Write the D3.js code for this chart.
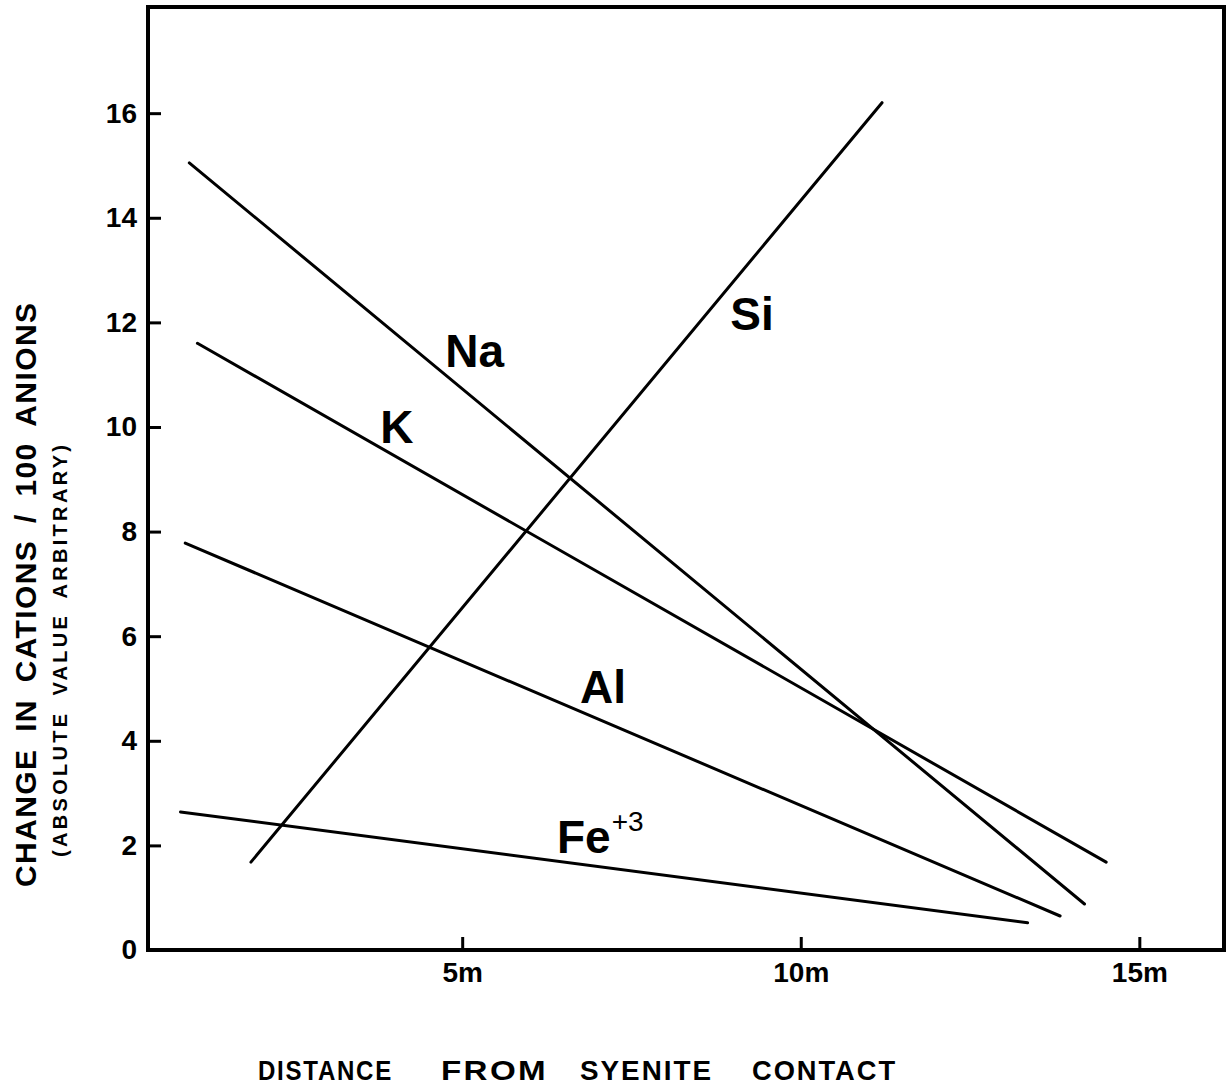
<!DOCTYPE html>
<html>
<head>
<meta charset="utf-8">
<script src="https://cdn.jsdelivr.net/npm/d3@7"></script>
<style>
  body { margin: 0; background: #fff; }
  text { font-family: "Liberation Sans", Arial, sans-serif; font-weight: bold; fill: #000; }
</style>
</head>
<body>
<svg id="chart" width="1231" height="1086"></svg>
<script>
// Distance axis (metres) and cation change axis
const xTicks = [5, 10, 15];
const xTickLabels = ["5m", "10m", "15m"];
const yTicks = [0, 2, 4, 6, 8, 10, 12, 14, 16];
const yTickLabels = ["0", "2", "4", "6", "8", "10", "12", "14", "16"];

// Each element's trend: [distance m, change] at both ends
const siLine = [[1.88, 1.68], [11.2, 16.2]];
const naLine = [[0.97, 15.05], [14.19, 0.88]];
const kLine  = [[1.09, 11.6], [14.51, 1.68]];
const alLine = [[0.91, 7.78], [13.83, 0.65]];
const feLine = [[0.84, 2.64], [13.35, 0.52]];

const elements = ["Si", "Na", "K", "Al", "Fe"];

const xTitleWords = ["DISTANCE", "FROM", "SYENITE", "CONTACT"];

const W = 1231, H = 1086;
const margin = { left: 148, top: 7, right: 5, bottom: 136 };

const svg = d3.select("#chart");

const x = d3.scaleLinear().domain([0.36, 16.28]).range([margin.left, W - margin.right]);
const y = d3.scaleLinear().domain([0, 18.03]).range([H - margin.bottom, margin.top]);

const line = d3.line().x(d => x(d[0])).y(d => y(d[1]));

// Trend lines
const seriesData = [siLine, naLine, kLine, alLine, feLine];
svg.append("g").selectAll("path")
  .data(seriesData)
  .join("path")
  .attr("d", line)
  .attr("fill", "none")
  .attr("stroke", "#000")
  .attr("stroke-width", 3)
  .attr("stroke-linecap", "round");

// Left axis with inward ticks
const yAxis = d3.axisLeft(y)
  .tickValues(yTicks)
  .tickFormat((d, i) => yTickLabels[i])
  .tickSizeInner(-13)
  .tickSizeOuter(0)
  .tickPadding(11);
const gy = svg.append("g").attr("transform", `translate(${margin.left},0)`).call(yAxis);
gy.select(".domain").remove();
gy.selectAll(".tick line").attr("stroke", "#000").attr("stroke-width", 3);
gy.selectAll(".tick text").attr("font-size", 28).attr("font-family", null);

// Bottom axis with inward ticks
const xAxis = d3.axisBottom(x)
  .tickValues(xTicks)
  .tickFormat((d, i) => xTickLabels[i])
  .tickSizeInner(-13)
  .tickSizeOuter(0)
  .tickPadding(12);
const gx = svg.append("g").attr("transform", `translate(0,${H - margin.bottom})`).call(xAxis);
gx.select(".domain").remove();
gx.selectAll(".tick line").attr("stroke", "#000").attr("stroke-width", 3);
gx.selectAll(".tick text").attr("font-size", 28).attr("font-family", null);

// Frame
svg.append("rect")
  .attr("x", margin.left)
  .attr("y", margin.top)
  .attr("width", W - margin.left - margin.right - 2)
  .attr("height", H - margin.top - margin.bottom)
  .attr("fill", "none")
  .attr("stroke", "#000")
  .attr("stroke-width", 4);

// Element labels beside their lines
const labelAt = {
  Si: [8.96, 11.85],
  Na: [4.75, 11.15],
  K:  [3.79, 9.69],
  Al: [6.74, 4.72],
  Fe: [6.40, 1.85]
};
elements.forEach(name => {
  const [lx, ly] = labelAt[name];
  const t = svg.append("text")
    .attr("x", x(lx))
    .attr("y", y(ly))
    .attr("font-size", 46)
    .text(name);
  if (name === "Fe") {
    t.append("tspan")
      .attr("font-size", 28)
      .style("font-weight", "normal")
      .attr("dy", -22)
      .attr("dx", 1)
      .text("+3");
  }
});

// Axis titles
svg.append("text")
  .attr("transform", "translate(36,595) rotate(-90)")
  .attr("text-anchor", "middle")
  .attr("font-size", 30)
  .attr("textLength", 584)
  .attr("lengthAdjust", "spacing")
  .style("word-spacing", "7px")
  .text("CHANGE IN CATIONS / 100 ANIONS");

svg.append("text")
  .attr("transform", "translate(67,651) rotate(-90)")
  .attr("text-anchor", "middle")
  .attr("font-size", 20)
  .attr("textLength", 412)
  .attr("lengthAdjust", "spacing")
  .style("word-spacing", "6px")
  .text("(ABSOLUTE VALUE ARBITRARY)");

// Bottom title, word by word with wide gaps
const wordStart = [258, 441, 580, 752];
const wordWidth = [135, 107, 133, 145];
svg.append("g").selectAll("text")
  .data(xTitleWords)
  .join("text")
  .attr("x", (d, i) => wordStart[i])
  .attr("y", 1080)
  .attr("font-size", 28)
  .style("letter-spacing", "2px")
  .attr("textLength", (d, i) => wordWidth[i])
  .attr("lengthAdjust", "spacingAndGlyphs")
  .text(d => d);
</script>
</body>
</html>
